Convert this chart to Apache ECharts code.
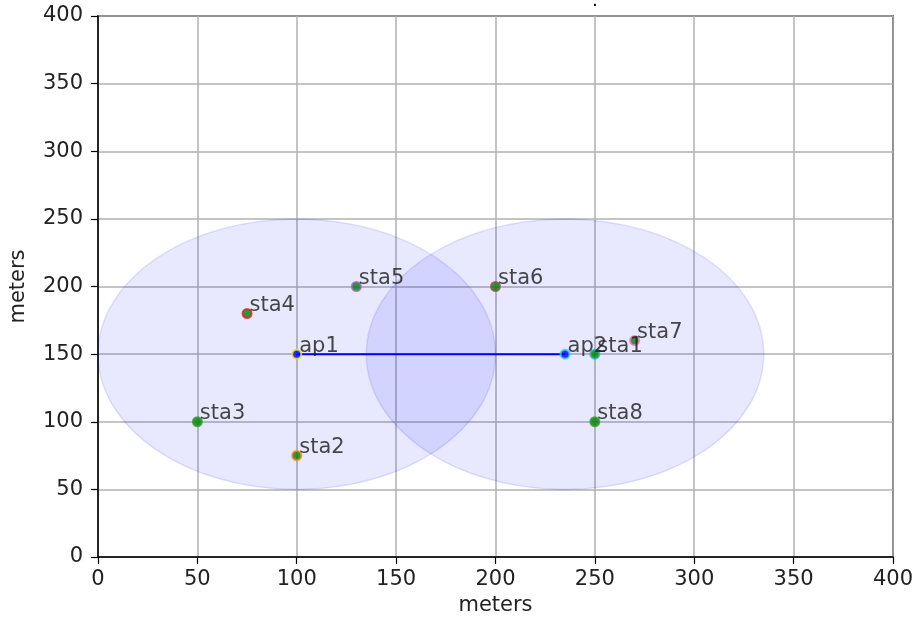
<!DOCTYPE html>
<html>
<head>
<meta charset="utf-8">
<script src="https://cdn.jsdelivr.net/npm/echarts@6/dist/echarts.min.js"></script>
<style>html,body{margin:0;padding:0;background:#fff}#c{width:916px;height:621px}</style>
</head>
<body>
<div id="c"></div>
<script>
// Data
const nodeNames = ['ap1', 'ap2', 'sta1', 'sta2', 'sta3', 'sta4', 'sta5', 'sta6', 'sta7', 'sta8'];
const nodeX = [100, 235, 250, 100, 50, 75, 130, 200, 270, 250];
const nodeY = [150, 150, 150, 75, 100, 180, 200, 200, 160, 100];
const apNames = ['ap1', 'ap2'];
const apX = [100, 235];
const apY = [150, 150];
const apRange = [100, 100];
const linkFrom = ['ap1'];
const linkTo = ['ap2'];
const axisTicks = [0, 50, 100, 150, 200, 250, 300, 350, 400];

// Styles
const faceColors = ['#0000ff', '#0000ff', '#008000', '#008000', '#008000', '#008000', '#008000', '#008000', '#008000', '#008000'];
const edgeColors = ['#e8e030', '#30d8e8', '#20b8c0', '#ff7f0e', '#2ca02c', '#e02020', '#9467bd', '#8c564b', '#e377c2', '#2ca02c'];

const chart = echarts.init(document.getElementById('c'));
const font = 'DejaVu Sans';

const circleData = apNames.map((n, i) => [apX[i], apY[i], apRange[i]]);
const lineData = [];
linkFrom.forEach((f, i) => {
  const a = nodeNames.indexOf(f), b = nodeNames.indexOf(linkTo[i]);
  lineData.push([nodeX[a], nodeY[a]], [nodeX[b], nodeY[b]]);
});
const pointData = nodeNames.map((n, i) => ({
  name: n,
  value: [nodeX[i], nodeY[i]],
  itemStyle: { color: faceColors[i], borderColor: edgeColors[i], borderWidth: 2 }
}));

const axisCommon = {
  type: 'value', min: 0, max: 400, interval: 50,
  axisLine: { show: true, onZero: false, lineStyle: { color: '#000', width: 1.5 } },
  axisTick: { show: true, length: 7, lineStyle: { color: '#000', width: 1.2 } },
  axisLabel: { color: '#222', fontFamily: font, fontSize: 21 },
  splitLine: { show: true, lineStyle: { color: '#b0b0b0', width: 1.5 } },
  nameTextStyle: { color: '#222', fontFamily: font, fontSize: 21 },
  name: 'meters', nameLocation: 'middle'
};

chart.setOption({
  animation: false,
  backgroundColor: '#fff',
  title: { text: '.', left: 588, top: -10, textStyle: { fontSize: 14, color: '#000', fontWeight: 'bold' } },
  grid: { left: 98, right: 22, top: 16, bottom: 62, show: true, borderColor: '#000', borderWidth: 1.5, backgroundColor: 'transparent' },
  xAxis: Object.assign({}, axisCommon, { nameGap: 38, axisLabel: Object.assign({}, axisCommon.axisLabel, { margin: 12 }) }),
  yAxis: Object.assign({}, axisCommon, { nameGap: 69, axisLabel: Object.assign({}, axisCommon.axisLabel, { margin: 15 }) }),
  series: [
    {
      type: 'custom',
      data: circleData,
      z: 2,
      silent: true,
      renderItem: function (params, api) {
        const c = api.coord([api.value(0), api.value(1)]);
        const s = api.size([api.value(2), api.value(2)]);
        return {
          type: 'ellipse',
          shape: { cx: c[0], cy: c[1], rx: s[0], ry: s[1] },
          style: { fill: 'rgba(0,0,255,0.09)', stroke: 'rgba(0,0,255,0.1)', lineWidth: 1.5 }
        };
      }
    },
    {
      type: 'line',
      data: lineData,
      z: 3,
      symbol: 'none',
      lineStyle: { color: '#0000ff', width: 2 },
      silent: true
    },
    {
      type: 'scatter',
      data: pointData,
      z: 4,
      symbolSize: 9,
      label: {
        show: true,
        formatter: '{b}',
        position: 'right',
        distance: 0,
        offset: [-3, -8],
        color: '#1a1a1a',
        fontFamily: font,
        fontSize: 21
      }
    }
  ]
});
</script>
</body>
</html>
